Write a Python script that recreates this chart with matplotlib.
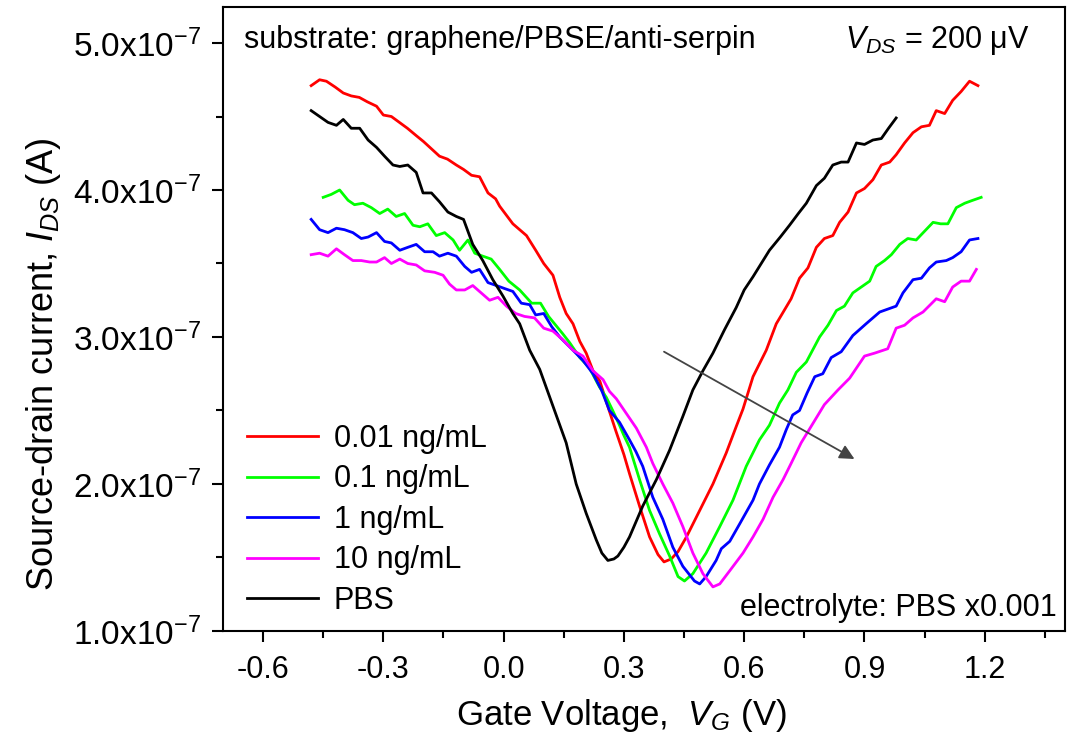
"""
plot.py
Transfer curves of a graphene FET (graphene/PBSE/anti-serpin) at several serpin concentrations.
"""

import matplotlib
matplotlib.use("Agg")
import matplotlib.pyplot as plt
from matplotlib.ticker import MultipleLocator, FuncFormatter

plt.rcParams['font.family'] = ['Liberation Sans', 'DejaVu Sans']
plt.rcParams['mathtext.fontset'] = 'custom'
plt.rcParams['mathtext.rm'] = 'Liberation Sans'
plt.rcParams['mathtext.it'] = 'Liberation Sans:italic'

# ==========================================
# Data (gate voltage in V, current in units of 1e-7 A)
# ==========================================
vg_001 = [-0.48, -0.459, -0.442, -0.42, -0.40, -0.38, -0.36, -0.34, -0.317, -0.30, -0.28, -0.26,
          -0.24, -0.218, -0.20, -0.18, -0.16, -0.14, -0.118, -0.10, -0.08, -0.06, -0.039, -0.02,
          -0.01, 0.023, 0.04, 0.057, 0.08, 0.10, 0.123, 0.14, 0.156, 0.173, 0.19, 0.206, 0.223,
          0.24, 0.256, 0.28, 0.30, 0.314, 0.339, 0.364, 0.385, 0.40, 0.418, 0.435, 0.456, 0.489,
          0.522, 0.555, 0.58, 0.597, 0.622, 0.655, 0.68, 0.717, 0.738, 0.759, 0.78, 0.80, 0.821,
          0.838, 0.859, 0.88, 0.90, 0.921, 0.942, 0.963, 0.979, 1.0, 1.021, 1.042, 1.062, 1.079,
          1.10, 1.12, 1.141, 1.162, 1.183]
ids_001 = [4.71, 4.75, 4.74, 4.70, 4.66, 4.64, 4.63, 4.60, 4.57, 4.51, 4.50, 4.46,
           4.42, 4.37, 4.33, 4.28, 4.23, 4.21, 4.17, 4.14, 4.10, 4.09, 3.98, 3.94,
           3.89, 3.77, 3.73, 3.69, 3.59, 3.50, 3.42, 3.27, 3.16, 3.09, 2.97, 2.89, 2.77,
           2.70, 2.56, 2.36, 2.20, 2.07, 1.85, 1.64, 1.52, 1.47, 1.49, 1.54, 1.64, 1.82,
           2.00, 2.21, 2.39, 2.51, 2.73, 2.91, 3.09, 3.26, 3.40, 3.47, 3.61, 3.67, 3.69,
           3.78, 3.85, 3.98, 4.01, 4.07, 4.17, 4.19, 4.24, 4.32, 4.39, 4.43, 4.44, 4.54,
           4.52, 4.61, 4.67, 4.74, 4.71]

vg_01 = [-0.45, -0.43, -0.409, -0.388, -0.372, -0.351, -0.33, -0.309, -0.289, -0.268, -0.247,
         -0.226, -0.209, -0.189, -0.168, -0.147, -0.126, -0.11, -0.089, -0.072, -0.052, -0.031,
         -0.01, 0.013, 0.04, 0.07, 0.092, 0.112, 0.13, 0.148, 0.165, 0.19, 0.214, 0.239, 0.256,
         0.272, 0.289, 0.30, 0.314, 0.339, 0.364, 0.389, 0.414, 0.435, 0.451, 0.472, 0.505,
         0.539, 0.572, 0.605, 0.638, 0.663, 0.688, 0.709, 0.73, 0.755, 0.788, 0.809, 0.83,
         0.85, 0.871, 0.892, 0.913, 0.929, 0.95, 0.967, 0.988, 1.008, 1.029, 1.05, 1.071,
         1.09, 1.108, 1.129, 1.15, 1.17, 1.191]
ids_01 = [3.95, 3.97, 4.00, 3.93, 3.90, 3.91, 3.88, 3.84, 3.87, 3.82, 3.84,
          3.76, 3.75, 3.77, 3.69, 3.71, 3.66, 3.59, 3.66, 3.57, 3.55, 3.53,
          3.46, 3.38, 3.32, 3.23, 3.23, 3.14, 3.08, 3.02, 2.96, 2.86, 2.79, 2.66, 2.59,
          2.50, 2.40, 2.33, 2.25, 2.03, 1.82, 1.66, 1.51, 1.37, 1.34, 1.39, 1.53,
          1.71, 1.89, 2.12, 2.30, 2.40, 2.55, 2.64, 2.76, 2.83, 3.00, 3.08, 3.18,
          3.21, 3.30, 3.34, 3.38, 3.48, 3.52, 3.56, 3.63, 3.67, 3.66, 3.72, 3.78,
          3.77, 3.77, 3.88, 3.91, 3.93, 3.95]

vg_1 = [-0.48, -0.459, -0.438, -0.417, -0.397, -0.376, -0.355, -0.338, -0.317, -0.297, -0.28,
        -0.259, -0.239, -0.218, -0.197, -0.176, -0.16, -0.139, -0.118, -0.097, -0.08, -0.06,
        -0.039, -0.018, 0.002, 0.023, 0.044, 0.065, 0.08, 0.10, 0.12, 0.14, 0.173, 0.198,
        0.223, 0.244, 0.264, 0.289, 0.314, 0.33, 0.347, 0.372, 0.397, 0.422, 0.447, 0.476,
        0.489, 0.505, 0.53, 0.543, 0.564, 0.589, 0.622, 0.638, 0.663, 0.688, 0.705, 0.721,
        0.738, 0.757, 0.776, 0.796, 0.817, 0.842, 0.871, 0.904, 0.938, 0.979, 0.996, 1.021,
        1.042, 1.062, 1.079, 1.104, 1.12, 1.141, 1.162, 1.183]
ids_1 = [3.80, 3.73, 3.71, 3.74, 3.73, 3.71, 3.67, 3.68, 3.71, 3.65, 3.64,
         3.59, 3.61, 3.63, 3.58, 3.58, 3.55, 3.57, 3.55, 3.48, 3.44, 3.46,
         3.37, 3.35, 3.33, 3.31, 3.23, 3.22, 3.15, 3.16, 3.07, 3.00, 2.91, 2.84,
         2.75, 2.64, 2.50, 2.42, 2.30, 2.22, 2.12, 1.91, 1.76, 1.57, 1.44, 1.34,
         1.32, 1.37, 1.48, 1.56, 1.61, 1.73, 1.89, 2.00, 2.13, 2.25, 2.37, 2.47,
         2.50, 2.62, 2.73, 2.75, 2.86, 2.90, 3.01, 3.09, 3.17, 3.21, 3.30, 3.39,
         3.40, 3.47, 3.51, 3.52, 3.54, 3.58, 3.66, 3.67]

vg_10 = [-0.48, -0.459, -0.438, -0.417, -0.397, -0.376, -0.355, -0.334, -0.317, -0.297, -0.28,
         -0.259, -0.239, -0.218, -0.197, -0.172, -0.151, -0.135, -0.118, -0.097, -0.077, -0.056,
         -0.035, -0.014, 0.007, 0.03, 0.052, 0.077, 0.10, 0.123, 0.148, 0.173, 0.198, 0.223,
         0.248, 0.264, 0.281, 0.306, 0.331, 0.356, 0.372, 0.397, 0.422, 0.447, 0.472, 0.497,
         0.522, 0.539, 0.564, 0.597, 0.622, 0.647, 0.672, 0.697, 0.717, 0.742, 0.771, 0.80,
         0.834, 0.863, 0.90, 0.925, 0.958, 0.979, 1.0, 1.021, 1.046, 1.079, 1.10, 1.12, 1.141,
         1.162, 1.179]
ids_10 = [3.56, 3.57, 3.55, 3.60, 3.56, 3.52, 3.52, 3.51, 3.51, 3.54, 3.50,
          3.53, 3.50, 3.49, 3.45, 3.44, 3.42, 3.36, 3.32, 3.32, 3.35, 3.30,
          3.25, 3.27, 3.21, 3.16, 3.14, 3.13, 3.06, 3.04, 2.98, 2.91, 2.87, 2.77,
          2.71, 2.63, 2.58, 2.48, 2.38, 2.25, 2.14, 2.00, 1.87, 1.71, 1.53, 1.39,
          1.30, 1.32, 1.41, 1.53, 1.64, 1.76, 1.91, 2.03, 2.14, 2.28, 2.41, 2.54,
          2.64, 2.72, 2.87, 2.89, 2.92, 3.06, 3.08, 3.13, 3.17, 3.26, 3.24, 3.34, 3.38,
          3.38, 3.46]

vg_pbs = [-0.48, -0.459, -0.438, -0.417, -0.40, -0.38, -0.359, -0.338, -0.317, -0.297, -0.276,
          -0.259, -0.239, -0.218, -0.201, -0.18, -0.16, -0.139, -0.118, -0.10, -0.077, -0.052,
          -0.027, -0.002, 0.023, 0.04, 0.065, 0.09, 0.123, 0.156, 0.181, 0.206, 0.231, 0.245,
          0.26, 0.275, 0.285, 0.30, 0.314, 0.347, 0.381, 0.414, 0.447, 0.472, 0.497, 0.522,
          0.551, 0.58, 0.60, 0.622, 0.663, 0.69, 0.713, 0.735, 0.755, 0.78, 0.80, 0.821,
          0.842, 0.859, 0.88, 0.90, 0.921, 0.942, 0.96, 0.979]
ids_pbs = [4.54, 4.50, 4.46, 4.44, 4.48, 4.42, 4.42, 4.34, 4.29, 4.23, 4.17,
           4.16, 4.17, 4.12, 3.98, 3.98, 3.92, 3.85, 3.82, 3.80, 3.63, 3.52,
           3.39, 3.28, 3.16, 3.09, 2.91, 2.78, 2.53, 2.28, 2.00, 1.80, 1.62, 1.53,
           1.48, 1.49, 1.51, 1.57, 1.64, 1.85, 2.03, 2.23, 2.46, 2.64, 2.77, 2.89,
           3.05, 3.20, 3.32, 3.41, 3.59, 3.68, 3.76, 3.84, 3.91, 4.03, 4.08, 4.17,
           4.19, 4.19, 4.32, 4.31, 4.34, 4.35, 4.42, 4.49]

series = [
    (vg_001, ids_001, '0.01 ng/mL', '#ff0000'),
    (vg_01, ids_01, '0.1 ng/mL', '#00ff00'),
    (vg_1, ids_1, '1 ng/mL', '#0000ff'),
    (vg_10, ids_10, '10 ng/mL', '#ff00ff'),
    (vg_pbs, ids_pbs, 'PBS', '#000000'),
]


def sci_label(val, pos):
    return r'%.1fx10$^{-7}$' % (val / 1e-7)


fig = plt.figure(figsize=(10.73, 7.44), dpi=100)
ax = fig.add_axes([0.2078, 0.1519, 0.7847, 0.8387])

for vg, ids, label, color in series:
    ax.plot(vg, [v * 1e-7 for v in ids], color=color, linewidth=2.0, label=label)

# trend arrow
ax.annotate('', xy=(0.875, 2.17e-7), xytext=(0.40, 2.90e-7),
            arrowprops=dict(arrowstyle='-|>', color='#444444', lw=1.3,
                            mutation_scale=22, shrinkA=0, shrinkB=0))

ax.set_xlim(-0.7, 1.4)
ax.set_ylim(1.0e-7, 5.245e-7)
ax.xaxis.set_major_locator(MultipleLocator(0.3))
ax.xaxis.set_minor_locator(MultipleLocator(0.15))
ax.yaxis.set_major_locator(MultipleLocator(1e-7))
ax.yaxis.set_minor_locator(MultipleLocator(0.5e-7))
ax.xaxis.set_major_formatter(FuncFormatter(lambda v, p: '%.1f' % v))
ax.yaxis.set_major_formatter(FuncFormatter(sci_label))

ax.tick_params(which='both', direction='out', top=False, right=False, width=1.5)
ax.tick_params(which='major', length=8)
ax.tick_params(which='minor', length=5)
ax.tick_params(axis='x', labelsize=22, pad=9)
ax.tick_params(axis='y', labelsize=24, pad=8)
for sp in ax.spines.values():
    sp.set_linewidth(1.5)

ax.set_xlabel(r'Gate Voltage,  $\mathit{V}_{\mathit{G}}$ (V)', fontsize=25)
ax.set_ylabel(r'Source-drain current, $\mathit{I}_{\mathit{DS}}$ (A)', fontsize=26)
ax.xaxis.set_label_coords(0.473, -0.105)
ax.yaxis.set_label_coords(-0.19, 0.428)

ax.text(0.025, 0.947, 'substrate: graphene/PBSE/anti-serpin', transform=ax.transAxes,
        fontsize=22, ha='left', va='center')
ax.text(0.958, 0.947, r'$\mathit{V}_{\mathit{DS}}$ = 200 $\mathrm{\mu}$V', transform=ax.transAxes,
        fontsize=22, ha='right', va='center')
ax.text(0.99, 0.037, 'electrolyte: PBS x0.001', transform=ax.transAxes,
        fontsize=22, ha='right', va='center')

ax.legend(loc='lower left', bbox_to_anchor=(0.014, 0.005), borderaxespad=0, borderpad=0.4,
          frameon=False, fontsize=22, handlelength=2.32, handletextpad=0.52, labelspacing=0.34)

fig.savefig('out.png', dpi=100)
